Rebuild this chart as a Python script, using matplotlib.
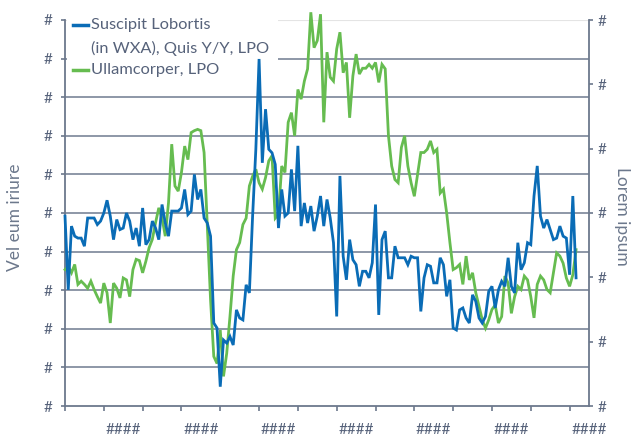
import matplotlib
matplotlib.use("Agg")
import matplotlib.pyplot as plt
from matplotlib.lines import Line2D
from matplotlib.patches import Rectangle
import numpy as np

plt.rcParams['font.family'] = ['Liberation Sans Narrow', 'Lato', 'DejaVu Sans']

# ---- data ----
blue_label = "Suscipit Lobortis\n(in WXA), Quis Y/Y, LPO"
green_label = "Ullamcorper, LPO"
left_label = "Vel eum iriure"
right_label = "Lorem ipsum"

blue = [4.92, 3.01, 4.66, 4.40, 4.35, 4.35, 4.14, 4.87, 4.87, 4.87,
        4.70, 4.79, 5.00, 5.33, 4.92, 4.31, 4.83, 4.57, 4.61, 5.00,
        4.79, 4.31, 4.61, 4.14, 5.13, 4.18, 4.31, 4.79, 4.61, 4.31,
        5.22, 4.74, 4.40, 5.05, 5.05, 5.05, 5.13, 5.61, 4.96, 5.05,
        6.00, 5.35, 5.61, 4.87, 4.74, 4.40, 2.15, 2.02, 0.50, 1.71,
        1.63, 1.80, 1.58, 2.49, 2.28, 2.23, 3.14, 2.93, 4.92, 6.65,
        8.99, 6.30, 7.69, 6.65, 6.56, 6.26, 4.61, 5.61, 4.92, 5.00,
        6.13, 5.05, 6.74, 4.66, 5.26, 4.74, 5.18, 4.53, 4.92, 5.44,
        4.66, 5.35, 4.87, 4.23, 2.32, 5.96, 3.88, 3.27, 4.31, 3.79,
        3.66, 3.10, 3.49, 3.49, 3.32, 3.71, 5.22, 2.36, 4.31, 4.53,
        3.32, 3.32, 4.14, 3.84, 3.84, 3.84, 3.66, 3.88, 3.84, 3.84,
        2.45, 3.32, 3.66, 3.62, 3.19, 3.19, 3.84, 3.66, 2.84, 3.27,
        2.02, 1.97, 2.49, 2.54, 2.28, 2.15, 2.88, 2.71, 2.28, 2.15,
        2.32, 2.97, 3.10, 2.54, 3.01, 3.23, 3.10, 3.84, 3.10, 2.93,
        4.23, 3.53, 3.71, 4.23, 4.18, 5.44, 6.22, 4.92, 4.61, 4.83,
        4.57, 4.31, 4.35, 4.66, 4.40, 4.35, 3.40, 5.44, 3.32]

green = [2.12, 2.17, 2.07, 2.20, 1.89, 1.94, 1.89, 1.83, 1.94, 1.81,
         1.70, 1.60, 1.91, 1.76, 1.29, 1.91, 1.83, 1.68, 1.99, 1.96,
         1.70, 2.12, 2.28, 2.26, 2.07, 2.25, 2.46, 2.59, 2.85, 3.08,
         2.92, 2.64, 3.16, 4.07, 3.42, 3.34, 3.63, 4.04, 3.83, 4.25,
         4.28, 4.30, 4.28, 3.94, 2.79, 1.65, 0.77, 0.66, 1.18, 0.46,
         0.82, 1.39, 2.02, 2.43, 2.54, 2.82, 2.92, 3.42, 3.57, 3.68,
         3.47, 3.37, 3.55, 3.81, 3.89, 2.92, 2.98, 3.73, 3.63, 4.41,
         4.56, 4.20, 4.92, 4.77, 5.05, 5.24, 6.12, 5.57, 5.68, 6.09,
         4.41, 5.50, 5.11, 5.05, 5.55, 5.81, 5.18, 5.34, 4.48, 5.13,
         5.47, 5.16, 5.25, 5.25, 5.31, 5.25, 5.34, 5.03, 5.31, 5.24,
         4.20, 3.73, 3.52, 3.47, 4.02, 4.20, 3.73, 3.47, 3.26, 3.60,
         3.94, 3.94, 3.99, 4.12, 3.94, 3.99, 3.31, 3.37, 3.00, 2.54,
         2.12, 2.15, 2.20, 1.89, 2.33, 1.96, 2.07, 1.76, 1.55, 1.34,
         1.21, 1.34, 1.50, 1.57, 1.29, 1.39, 2.02, 1.91, 1.44, 1.70,
         1.86, 1.81, 2.02, 1.96, 1.70, 1.37, 1.89, 2.02, 1.96, 1.81,
         1.76, 2.07, 2.38, 2.33, 2.22, 1.99, 1.86, 2.04, 2.43]

left_ticks = list(range(0, 11))
right_ticks = list(range(0, 7))
x_major = list(range(0, 157, 12))
x_label_pos = [18, 42, 66, 90, 114, 138, 162]
x_labels = ["####"] * 7

# ---- styling ----
BLUE = "#0a6cb6"
GREEN = "#66bc50"
AXC = "#6c788c"
TXT = "#56627a"
GRID = "#7a8598"

W, H = 633, 436
fig = plt.figure(figsize=(W / 100, H / 100), dpi=100)
L, R, T, B = 65, 589, 20, 406
rect = [L / W, 1 - B / H, (R - L) / W, (B - T) / H]

ax = fig.add_axes(rect)
axg = ax.twinx()
axb = ax.twinx()

xb = np.arange(len(blue))
xg = np.arange(len(green))

for a in (ax, axg, axb):
    a.set_xlim(0, 162)
    a.patch.set_visible(False)
    for s in a.spines.values():
        s.set_visible(False)

ax.set_ylim(0, 10)
axb.set_ylim(0, 10)
axg.set_ylim(0, 6)

# grid (main axes)
for v in left_ticks[1:-1]:
    ax.axhline(v, color=GRID, lw=1.2, zorder=1)
ax.axhline(10, color="#e4e4e4", lw=1.5, zorder=1)

# white box behind legend (covers gridlines only)
ax.add_patch(Rectangle((0.5, 8.55), (277 - 66) / 524 * 162, 1.6,
                       facecolor="white", edgecolor="none", zorder=2.6,
                       clip_on=False))

# spines
for side in ("left", "bottom"):
    ax.spines[side].set_visible(True)
    ax.spines[side].set_color(AXC)
    ax.spines[side].set_linewidth(1.3)
    ax.spines[side].set_zorder(3)
axg.spines["right"].set_visible(True)
axg.spines["right"].set_color(AXC)
axg.spines["right"].set_linewidth(1.3)

# lines
axg.plot(xg, green, color=GREEN, lw=2.0, clip_on=False, solid_joinstyle="miter")
axb.plot(xb, blue, color=BLUE, lw=2.0, clip_on=False, solid_joinstyle="miter")

# ticks
ax.set_yticks(left_ticks)
ax.set_yticklabels(["#"] * len(left_ticks))
ax.tick_params(axis="y", direction="out", length=3, width=1.2, color=AXC,
               labelcolor=TXT, labelsize=11, pad=6)
axg.set_yticks(right_ticks)
axg.set_yticklabels(["#"] * len(right_ticks))
axg.tick_params(axis="y", direction="out", length=3, width=1.2, color=AXC,
                labelcolor=TXT, labelsize=11, pad=3)
axb.set_yticks([])
axb.tick_params(axis="y", length=0)
axg.set_xticks([])
axb.set_xticks([])

ax.set_xticks(x_major)
ax.set_xticklabels([])
ax.set_xticks(x_label_pos, minor=True)
ax.set_xticklabels(x_labels, minor=True)
ax.tick_params(axis="x", which="major", direction="out", length=3.5, width=1.2,
               color=AXC)
ax.tick_params(axis="x", which="minor", length=0, labelcolor=TXT,
               labelsize=11, pad=12)

# axis labels
ax.set_ylabel(left_label, color=AXC, fontsize=12.5, va="center", ha="center")
ax.yaxis.set_label_coords(-(L - 15) / (R - L), 0.49)
axg.set_ylabel(right_label, color=AXC, fontsize=12.5, rotation=270,
               va="center", ha="center")
axg.yaxis.set_label_coords((622 - L) / (R - L), 0.49)

# legend (manual, figure coords)
def fx(px):
    return px / W

def fy(py):
    return 1 - py / H

LFS = 11.8
fig.add_artist(Line2D([fx(73), fx(88)], [fy(25), fy(25)], color=BLUE, lw=2.5))
fig.add_artist(Line2D([fx(73), fx(88)], [fy(70), fy(70)], color=GREEN, lw=2.5))
fig.text(fx(91), fy(25), blue_label.split("\n")[0], color=TXT, fontsize=LFS,
         va="center", ha="left")
fig.text(fx(91), fy(48), blue_label.split("\n")[1], color=TXT, fontsize=LFS,
         va="center", ha="left")
fig.text(fx(91), fy(70), green_label, color=TXT, fontsize=LFS,
         va="center", ha="left")

fig.savefig("out.png", dpi=100)
